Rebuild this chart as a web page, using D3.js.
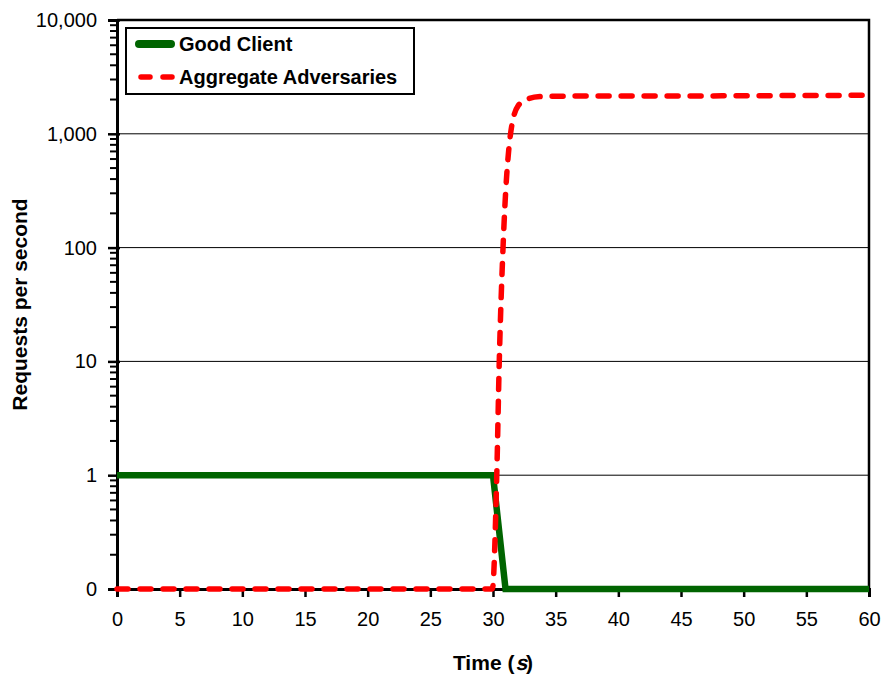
<!DOCTYPE html>
<html>
<head>
<meta charset="utf-8">
<script src="https://cdn.jsdelivr.net/npm/d3@7"></script>
<style>
  body { margin: 0; background: #fff; }
  text { font-family: "Liberation Sans", Arial, sans-serif; }
</style>
</head>
<body>
<div class="chart"></div>
<script>
let width = 882
let height = 677

// good client, requests per second
let goodTime = [0, 5, 10, 15, 20, 25, 30, 31, 35, 40, 45, 50, 55, 60]
let goodValue = [1, 1, 1, 1, 1, 1, 1, 0, 0, 0, 0, 0, 0, 0]

// aggregate adversaries, requests per second
let advTime = [0, 5, 10, 15, 20, 25, 29.95, 30.3, 30.5, 30.8, 31.4, 32, 32.8, 33.75, 35, 40, 45, 50, 55, 60]
let advValue = [0, 0, 0, 0, 0, 0, 0, 1, 10, 100, 1000, 1760, 2030, 2125, 2140, 2150, 2150, 2160, 2170, 2180]

let xTicks = [0, 5, 10, 15, 20, 25, 30, 35, 40, 45, 50, 55, 60]
let yTicks = [0.1, 1, 10, 100, 1000, 10000]
let yTickLabels = ["0", "1", "10", "100", "1,000", "10,000"]

let seriesNames = ["Good Client", "Aggregate Adversaries"]
let colors = ["#006400", "#ff0000"]

let margin = {top: 20, right: 13, bottom: 88, left: 117}
let plotW = width - margin.left - margin.right
let plotH = height - margin.top - margin.bottom

let x = d3.scaleLinear().domain([0, 60]).range([margin.left, margin.left + plotW])
let y = d3.scaleLog().domain([0.1, 10000]).range([margin.top + plotH, margin.top])
// zero cannot sit on a log axis, so it is drawn on the floor (labelled "0")
let yv = v => y(Math.max(v, 0.1))

let svg = d3.select(".chart")
  .append("svg")
  .attr("width", width)
  .attr("height", height)

// gridlines
svg.append("g")
  .selectAll("line")
  .data(yTicks.slice(1, -1))
  .enter()
  .append("line")
  .attr("x1", margin.left)
  .attr("x2", margin.left + plotW)
  .attr("y1", d => y(d))
  .attr("y2", d => y(d))
  .attr("stroke", "#000")
  .attr("stroke-width", 1)

// top and right frame
svg.append("path")
  .attr("d", `M${margin.left},${margin.top}H${margin.left + plotW}V${margin.top + plotH}`)
  .attr("fill", "none")
  .attr("stroke", "#000")
  .attr("stroke-width", 2.5)

// minor log ticks
let minor = []
for (let d = 0.1; d < 10000; d *= 10) {
  for (let k = 2; k <= 9; k++) minor.push(d * k)
}
svg.append("g")
  .selectAll("line")
  .data(minor)
  .enter()
  .append("line")
  .attr("x1", margin.left - 7)
  .attr("x2", margin.left)
  .attr("y1", d => y(d))
  .attr("y2", d => y(d))
  .attr("stroke", "#000")
  .attr("stroke-width", 2)

let yAxis = svg.append("g")
  .attr("transform", `translate(${margin.left},0)`)
  .call(d3.axisLeft(y).tickValues(yTicks).tickFormat((d, i) => yTickLabels[i]).tickSize(9).tickPadding(11))
yAxis.select(".domain").attr("stroke-width", 3)
yAxis.selectAll(".tick line").attr("stroke-width", 2.5).attr("x2", 3).attr("x1", -9)
yAxis.selectAll("text").attr("font-size", 20).attr("fill", "#000")

let xAxis = svg.append("g")
  .attr("transform", `translate(0,${margin.top + plotH})`)
  .call(d3.axisBottom(x).tickValues(xTicks).tickSize(8).tickPadding(15))
xAxis.select(".domain").attr("stroke-width", 3)
xAxis.selectAll(".tick line").attr("stroke-width", 2.5)
xAxis.selectAll("text").attr("font-size", 20).attr("fill", "#000")
yAxis.attr("font-family", null)
xAxis.attr("font-family", null)

// series
let goodLine = d3.line()
  .x(i => x(goodTime[i]))
  .y(i => yv(goodValue[i]))

svg.append("path")
  .attr("d", goodLine(d3.range(goodTime.length)))
  .attr("fill", "none")
  .attr("stroke", colors[0])
  .attr("stroke-width", 6.5)
  .attr("stroke-linejoin", "miter")

let advLine = d3.line()
  .x(i => x(advTime[i]))
  .y(i => yv(advValue[i]))
  .curve(d3.curveMonotoneX)

svg.append("path")
  .attr("d", advLine(d3.range(advTime.length)))
  .attr("fill", "none")
  .attr("stroke", colors[1])
  .attr("stroke-width", 5.5)
  .attr("stroke-linecap", "round")
  .attr("stroke-dasharray", "11,12")

// x title: pieces laid side by side, the "s" slanted
let titleParts = ["Time (", "s", ")"]
let xTitle = svg.append("g")
let parts = xTitle.selectAll("text")
  .data(titleParts)
  .enter()
  .append("text")
  .attr("font-size", 21)
  .attr("font-weight", "bold")
  .text(d => d)
let widths = parts.nodes().map(n => n.getComputedTextLength())
let total = d3.sum(widths)
let startX = margin.left + plotW / 2 - total / 2
let titleY = 670
parts.attr("transform", (d, i) => {
  let px = startX + d3.sum(widths.slice(0, i))
  return i == 1 ? `translate(${px + 1},${titleY}) skewX(-12)` : `translate(${px},${titleY})`
})

svg.append("text")
  .attr("transform", `translate(27,${margin.top + plotH / 2}) rotate(-90)`)
  .attr("text-anchor", "middle")
  .attr("font-size", 21)
  .attr("font-weight", "bold")
  .text("Requests per second")

// legend
let legend = svg.append("g").attr("transform", "translate(126,28)")
legend.append("rect")
  .attr("width", 288)
  .attr("height", 66)
  .attr("fill", "#fff")
  .attr("stroke", "#000")
  .attr("stroke-width", 2)

let items = legend.selectAll("g.item")
  .data(seriesNames)
  .enter()
  .append("g")
  .attr("transform", (d, i) => `translate(0,${16 + i * 33})`)

items.append("line")
  .attr("x1", 13)
  .attr("x2", 45)
  .attr("stroke", (d, i) => colors[i])
  .attr("stroke-width", (d, i) => i == 0 ? 8 : 5.5)
  .attr("stroke-linecap", "round")
  .attr("stroke-dasharray", (d, i) => i == 0 ? null : "9,13")
  .attr("transform", (d, i) => i == 0 ? null : "translate(2,0)")

items.append("text")
  .attr("x", 53)
  .attr("dy", "0.36em")
  .attr("font-size", 20)
  .attr("font-weight", "bold")
  .text(d => d)
</script>
</body>
</html>
